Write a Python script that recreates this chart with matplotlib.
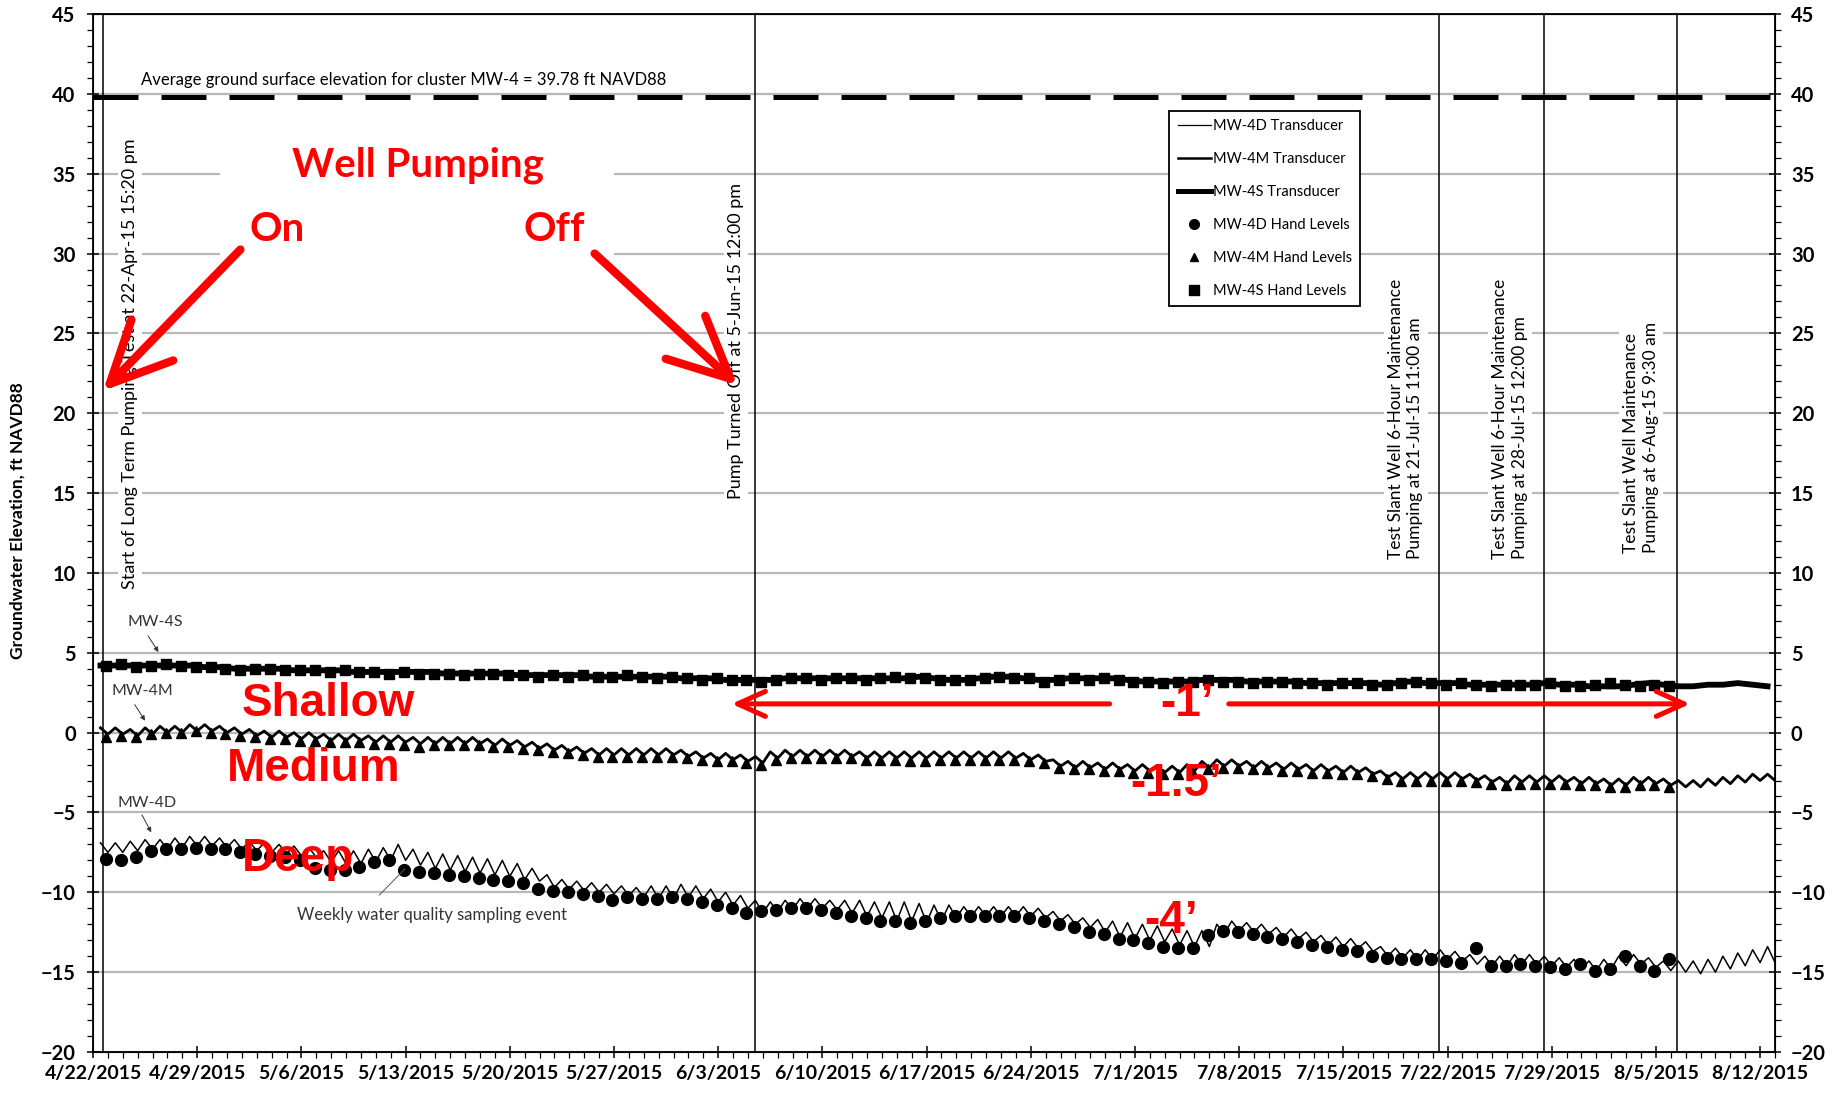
import datetime as dt
import matplotlib
matplotlib.use("Agg")
import matplotlib.pyplot as plt
import matplotlib.dates as mdates
import matplotlib.ticker as mticker
from matplotlib.lines import Line2D
from matplotlib.patches import Rectangle

# ---------------- data (ft NAVD88) ----------------
START = dt.datetime(2015, 4, 22)

# MW-4D transducer: daily high / low readings (day 0 = 4/22/2015)
mw4d_peak = [-6.9, -6.9, -6.8, -6.7, -6.7, -6.6, -6.5, -6.5, -6.6, -6.7,
             -6.8, -6.9, -7.0, -7.1, -7.2, -7.4, -7.4, -7.4, -7.3, -7.2,
             -7.0, -7.3, -7.5, -7.6, -7.7, -7.8, -7.9, -8.0, -8.2, -8.5,
             -8.9, -9.2, -9.3, -9.4, -9.5, -9.6, -9.7, -9.6, -9.6, -9.5,
             -9.6, -9.8, -10.0, -10.2, -10.5, -10.6, -10.5, -10.4, -10.4, -10.5,
             -10.5, -10.5, -10.6, -10.6, -10.6, -10.7, -10.8, -10.8, -10.9, -10.9,
             -10.9, -10.9, -10.9, -11.0, -11.2, -11.4, -11.6, -11.7, -11.8, -11.9,
             -12.0, -12.1, -12.3, -12.4, -12.4, -12.0, -11.8, -11.9, -12.0, -12.2,
             -12.3, -12.5, -12.7, -12.8, -12.9, -13.1, -13.4, -13.5, -13.6, -13.6,
             -13.6, -13.7, -13.9, -14.0, -14.0, -13.9, -13.9, -14.0, -14.1, -14.2,
             -14.3, -14.2, -14.0, -13.9, -14.1, -14.3, -14.3, -14.3, -14.2, -14.0,
             -13.8, -13.6, -13.4]
mw4d_trough = [-7.5, -7.5, -7.4, -7.3, -7.3, -7.2, -7.1, -7.1, -7.2, -7.3,
               -7.4, -7.5, -7.6, -7.7, -7.8, -8.1, -8.2, -8.2, -8.1, -8.0,
               -8.0, -8.3, -8.5, -8.6, -8.7, -8.8, -8.9, -9.0, -9.2, -9.3,
               -9.7, -9.8, -9.9, -10.0, -10.1, -10.2, -10.3, -10.4, -10.4, -10.3,
               -10.4, -10.6, -10.8, -11.0, -11.3, -11.2, -11.1, -11.0, -11.0, -11.1,
               -11.3, -11.5, -11.6, -11.8, -11.8, -11.9, -11.8, -11.6, -11.5, -11.5,
               -11.5, -11.5, -11.5, -11.6, -11.8, -12.0, -12.2, -12.5, -12.8, -12.9,
               -13.0, -13.1, -13.3, -13.4, -13.4, -12.6, -12.4, -12.5, -12.6, -12.8,
               -12.9, -13.1, -13.3, -13.4, -13.5, -13.7, -14.0, -14.1, -14.2, -14.2,
               -14.2, -14.3, -14.5, -14.6, -14.6, -14.5, -14.5, -14.6, -14.7, -14.8,
               -14.9, -14.8, -14.6, -14.5, -14.7, -14.9, -15.0, -15.1, -15.0, -14.8,
               -14.6, -14.4, -14.4]

# MW-4M transducer: daily high / low readings
mw4m_peak = [0.3, 0.3, 0.2, 0.3, 0.4, 0.4, 0.5, 0.5, 0.4, 0.3,
             0.2, 0.1, 0.1, 0.0, 0.0, -0.1, -0.1, -0.1, -0.2, -0.2,
             -0.2, -0.3, -0.3, -0.3, -0.3, -0.3, -0.4, -0.4, -0.5, -0.6,
             -0.7, -0.8, -0.9, -1.0, -1.0, -1.0, -1.0, -1.0, -1.0, -1.1,
             -1.2, -1.3, -1.3, -1.4, -1.5, -1.2, -1.1, -1.1, -1.1, -1.1,
             -1.1, -1.2, -1.2, -1.2, -1.2, -1.2, -1.2, -1.2, -1.2, -1.2,
             -1.2, -1.2, -1.3, -1.4, -1.7, -1.8, -1.8, -1.9, -1.9, -2.0,
             -2.0, -2.1, -2.1, -2.0, -1.8, -1.7, -1.7, -1.8, -1.8, -1.9,
             -1.9, -2.0, -2.0, -2.1, -2.1, -2.2, -2.4, -2.5, -2.5, -2.5,
             -2.5, -2.5, -2.6, -2.7, -2.8, -2.7, -2.7, -2.7, -2.7, -2.8,
             -2.8, -2.9, -2.9, -2.8, -2.8, -2.9, -3.0, -3.0, -2.9, -2.8,
             -2.7, -2.6, -2.6]
mw4m_trough = [-0.1, -0.1, -0.2, -0.1, 0.0, 0.0, 0.1, 0.1, 0.0, -0.1,
               -0.2, -0.3, -0.3, -0.4, -0.4, -0.5, -0.5, -0.5, -0.6, -0.6,
               -0.6, -0.7, -0.7, -0.7, -0.7, -0.7, -0.8, -0.8, -0.9, -1.0,
               -1.1, -1.2, -1.3, -1.4, -1.4, -1.4, -1.4, -1.4, -1.4, -1.5,
               -1.6, -1.7, -1.7, -1.8, -1.9, -1.6, -1.5, -1.5, -1.5, -1.5,
               -1.5, -1.6, -1.6, -1.6, -1.6, -1.6, -1.6, -1.6, -1.6, -1.6,
               -1.6, -1.6, -1.7, -1.8, -2.1, -2.2, -2.2, -2.3, -2.3, -2.4,
               -2.4, -2.5, -2.5, -2.4, -2.2, -2.1, -2.1, -2.2, -2.2, -2.3,
               -2.3, -2.4, -2.4, -2.5, -2.5, -2.6, -2.8, -2.9, -2.9, -2.9,
               -2.9, -2.9, -3.0, -3.1, -3.2, -3.1, -3.1, -3.1, -3.1, -3.2,
               -3.2, -3.3, -3.3, -3.2, -3.2, -3.3, -3.4, -3.4, -3.3, -3.2,
               -3.1, -3.0, -3.0]

# MW-4S transducer: daily readings
mw4s_transducer = [4.2, 4.2, 4.2, 4.2, 4.2, 4.2, 4.2, 4.1, 4.1, 4.0,
                   4.0, 4.0, 4.0, 3.9, 3.9, 3.9, 3.9, 3.8, 3.8, 3.8,
                   3.8, 3.8, 3.8, 3.7, 3.7, 3.7, 3.7, 3.7, 3.6, 3.6,
                   3.6, 3.6, 3.6, 3.5, 3.5, 3.5, 3.5, 3.5, 3.5, 3.4,
                   3.4, 3.4, 3.3, 3.3, 3.3, 3.3, 3.4, 3.4, 3.4, 3.4,
                   3.4, 3.4, 3.4, 3.4, 3.4, 3.5, 3.4, 3.3, 3.3, 3.4,
                   3.5, 3.5, 3.4, 3.3, 3.3, 3.4, 3.4, 3.4, 3.4, 3.3,
                   3.2, 3.2, 3.2, 3.2, 3.3, 3.3, 3.3, 3.2, 3.2, 3.2,
                   3.2, 3.1, 3.1, 3.1, 3.1, 3.1, 3.0, 3.1, 3.2, 3.1,
                   3.1, 3.1, 3.0, 3.0, 3.0, 3.0, 3.0, 3.1, 3.0, 3.0,
                   2.9, 2.9, 2.9, 3.0, 3.1, 3.0, 2.9, 2.9, 3.0, 3.0,
                   3.1, 3.0, 2.9]

# Hand levels (one per day, 4/22 - 8/6)
mw4d_hand = [-7.9, -8.0, -7.8, -7.4, -7.3, -7.3, -7.2, -7.3, -7.3, -7.5,
             -7.6, -7.7, -7.8, -8.0, -8.5, -8.6, -8.6, -8.4, -8.1, -8.0,
             -8.6, -8.7, -8.8, -8.9, -9.0, -9.1, -9.2, -9.3, -9.4, -9.8,
             -9.9, -10.0, -10.1, -10.2, -10.5, -10.3, -10.4, -10.4, -10.3, -10.4,
             -10.6, -10.8, -11.0, -11.3, -11.2, -11.1, -11.0, -11.0, -11.1, -11.3,
             -11.5, -11.6, -11.8, -11.8, -11.9, -11.8, -11.6, -11.5, -11.5, -11.5,
             -11.5, -11.5, -11.6, -11.8, -12.0, -12.2, -12.5, -12.6, -12.9, -13.0,
             -13.2, -13.4, -13.5, -13.5, -12.7, -12.4, -12.5, -12.6, -12.8, -12.9,
             -13.1, -13.3, -13.4, -13.6, -13.7, -14.0, -14.1, -14.2, -14.2, -14.2,
             -14.3, -14.4, -13.5, -14.6, -14.6, -14.5, -14.6, -14.7, -14.8, -14.5,
             -14.9, -14.8, -14.0, -14.6, -14.9, -14.2]
mw4m_hand = [-0.3, -0.2, -0.3, -0.1, 0.0, 0.0, 0.1, 0.0, -0.1, -0.2,
             -0.3, -0.4, -0.4, -0.5, -0.5, -0.6, -0.6, -0.6, -0.7, -0.7,
             -0.8, -0.9, -0.8, -0.8, -0.8, -0.8, -0.9, -0.9, -1.0, -1.1,
             -1.2, -1.3, -1.4, -1.5, -1.5, -1.5, -1.5, -1.5, -1.5, -1.6,
             -1.7, -1.8, -1.8, -1.9, -2.0, -1.7, -1.6, -1.6, -1.6, -1.6,
             -1.6, -1.7, -1.7, -1.7, -1.8, -1.8, -1.7, -1.7, -1.7, -1.7,
             -1.7, -1.7, -1.8, -1.9, -2.2, -2.3, -2.3, -2.4, -2.4, -2.5,
             -2.5, -2.6, -2.6, -2.5, -2.3, -2.2, -2.2, -2.3, -2.3, -2.4,
             -2.4, -2.5, -2.5, -2.6, -2.6, -2.7, -2.9, -3.0, -3.0, -3.0,
             -3.0, -3.0, -3.1, -3.2, -3.3, -3.2, -3.2, -3.2, -3.2, -3.3,
             -3.3, -3.4, -3.4, -3.3, -3.3, -3.4]
mw4s_hand = [4.2, 4.3, 4.1, 4.2, 4.3, 4.2, 4.1, 4.1, 4.0, 3.9,
             4.0, 4.0, 3.9, 3.9, 3.9, 3.8, 3.9, 3.8, 3.8, 3.7,
             3.8, 3.7, 3.7, 3.7, 3.6, 3.7, 3.7, 3.6, 3.6, 3.5,
             3.6, 3.5, 3.6, 3.5, 3.5, 3.6, 3.5, 3.4, 3.5, 3.4,
             3.3, 3.4, 3.3, 3.3, 3.2, 3.3, 3.4, 3.4, 3.3, 3.4,
             3.4, 3.3, 3.4, 3.5, 3.4, 3.4, 3.3, 3.3, 3.3, 3.4,
             3.5, 3.4, 3.4, 3.2, 3.3, 3.4, 3.3, 3.4, 3.3, 3.2,
             3.2, 3.1, 3.2, 3.2, 3.3, 3.2, 3.2, 3.1, 3.2, 3.2,
             3.1, 3.1, 3.0, 3.1, 3.1, 3.0, 3.0, 3.1, 3.2, 3.1,
             3.0, 3.1, 3.0, 2.9, 3.0, 3.0, 3.0, 3.1, 2.9, 2.9,
             3.0, 3.1, 3.0, 2.9, 3.0, 2.9]

ground_surface = 39.78
event_times = [dt.datetime(2015, 4, 22, 15, 20), dt.datetime(2015, 6, 5, 12, 0),
               dt.datetime(2015, 7, 21, 11, 0), dt.datetime(2015, 7, 28, 12, 0),
               dt.datetime(2015, 8, 6, 9, 30)]
week_dates = [START + dt.timedelta(days=7 * i) for i in range(17)]
tick_labels = [f"{d.month}/{d.day}/{d.year}" for d in week_dates]
legend_labels = ["MW-4D Transducer", "MW-4M Transducer", "MW-4S Transducer",
                 "MW-4D Hand Levels", "MW-4M Hand Levels", "MW-4S Hand Levels"]


def day(d):
    return START + dt.timedelta(days=d)


def X(d):
    return mdates.date2num(day(d))


# build time axes
peak_t = [day(d + 0.5) for d in range(len(mw4d_peak))]
trough_t = [day(d + 1.0) for d in range(len(mw4d_trough))]


def interleave(a, b):
    out = []
    for u, v in zip(a, b):
        out += [u, v]
    return out


tr_t = interleave(peak_t, trough_t)
mw4d_t_vals = interleave(mw4d_peak, mw4d_trough)
mw4m_t_vals = interleave(mw4m_peak, mw4m_trough)
s_t = [day(d + 0.5) for d in range(len(mw4s_transducer))]
hand_t = [day(d + 0.9) for d in range(len(mw4d_hand))]

# ---------------- figure ----------------
SANS = ["Lato", "DejaVu Sans"]
ARIAL = ["Liberation Sans", "DejaVu Sans"]
plt.rcParams["font.family"] = SANS

W, H = 1837, 1095
fig = plt.figure(figsize=(W / 100, H / 100), dpi=100)
ax = fig.add_axes([93 / W, 1 - 1052 / H, 1682 / W, 1038 / H])

ax.set_xlim(day(0), day(113))
ax.set_ylim(-20, 45)
ax.yaxis.set_major_locator(mticker.MultipleLocator(5))
ax.yaxis.set_minor_locator(mticker.MultipleLocator(1))
ax.set_xticks(mdates.date2num(week_dates))
ax.set_xticklabels(tick_labels)
ax.xaxis.set_minor_locator(mdates.DayLocator())
ax.grid(axis="y", which="major", color="#b8b8b8", lw=1.6)
ax.set_axisbelow(True)
for s in ax.spines.values():
    s.set_linewidth(1.3)

ax.tick_params(axis="x", which="major", direction="inout", length=9, width=1.1, labelsize=14, pad=5)
ax.tick_params(axis="x", which="minor", direction="out", length=4, width=0.9)
ax.tick_params(axis="y", which="major", direction="inout", length=9, width=1.1, labelsize=14.5, pad=8)
ax.tick_params(axis="y", which="minor", direction="out", length=4, width=0.9)
for lbl in ax.get_xticklabels() + ax.get_yticklabels():
    lbl.set_fontweight("bold")

ax2 = ax.twinx()
ax2.set_ylim(-20, 45)
ax2.yaxis.set_major_locator(mticker.MultipleLocator(5))
ax2.yaxis.set_minor_locator(mticker.MultipleLocator(1))
ax2.tick_params(axis="y", which="major", direction="inout", length=9, width=1.1, labelsize=14.5, pad=7)
ax2.tick_params(axis="y", which="minor", direction="out", length=4, width=0.9)
for lbl in ax2.get_yticklabels():
    lbl.set_fontweight("bold")

fig.text(18 / W, 1 - 521 / H, "Groundwater Elevation, ft NAVD88", rotation=90,
         ha="center", va="center", fontsize=12.5, fontweight="bold")

# event lines and ground surface
for t in event_times:
    ax.axvline(t, color="black", lw=1.1, zorder=2)
ax.axhline(ground_surface, color="black", lw=3.6, dashes=(9, 4.6), zorder=3)
ax.text(X(3.2), 40.85, "Average ground surface elevation for cluster MW-4 = 39.78 ft NAVD88",
        fontsize=12, ha="left", va="center", zorder=3)

# data
ax.plot(tr_t, mw4d_t_vals, color="black", lw=1.1, zorder=4)
ax.plot(tr_t, mw4m_t_vals, color="black", lw=2.0, zorder=4)
ax.plot(s_t, mw4s_transducer, color="black", lw=4.2, zorder=4)
ax.plot(hand_t, mw4d_hand, ls="none", marker="o", ms=8.5, color="black", zorder=5)
ax.plot(hand_t, mw4m_hand, ls="none", marker="^", ms=6.5, color="black", zorder=5)
ax.plot(hand_t, mw4s_hand, ls="none", marker="s", ms=7.5, color="black", zorder=5)

# legend
handles = [Line2D([], [], color="black", lw=0.9),
           Line2D([], [], color="black", lw=1.8),
           Line2D([], [], color="black", lw=3.6),
           Line2D([], [], ls="none", marker="o", ms=7, color="black"),
           Line2D([], [], ls="none", marker="^", ms=5.5, color="black"),
           Line2D([], [], ls="none", marker="s", ms=6.5, color="black")]
leg = ax.legend(handles, legend_labels, loc="upper left", bbox_to_anchor=(0.640, 0.9065),
                borderaxespad=0, fontsize=10.5, frameon=True, fancybox=False,
                edgecolor="black", framealpha=1, labelspacing=1.3, handlelength=2.3,
                handletextpad=0.15, borderpad=0.55)
leg.get_frame().set_linewidth(1.3)
leg.set_zorder(10)

# rotated event notes
box = dict(facecolor="white", edgecolor="none", pad=3)
ax.text(X(2.5), 9.0, "Start of Long Term Pumping Test at 22-Apr-15 15:20 pm", rotation=90,
        ha="center", va="bottom", fontsize=13, bbox=box, zorder=3)
ax.text(X(43.2), 14.6, "Pump Turned Off at 5-Jun-15 12:00 pm", rotation=90,
        ha="center", va="bottom", fontsize=13, bbox=box, zorder=3)
ax.text(X(88.2), 10.9, "Test Slant Well 6-Hour Maintenance\nPumping at 21-Jul-15 11:00 am",
        rotation=90, ha="center", va="bottom", multialignment="left", linespacing=1.25,
        fontsize=12.5, bbox=box, zorder=3)
ax.text(X(95.2), 10.9, "Test Slant Well 6-Hour Maintenance\nPumping at 28-Jul-15 12:00 pm",
        rotation=90, ha="center", va="bottom", multialignment="left", linespacing=1.25,
        fontsize=12.5, bbox=box, zorder=3)
ax.text(X(104.0), 11.25, "Test Slant Well Maintenance\nPumping at 6-Aug-15 9:30 am",
        rotation=90, ha="center", va="bottom", multialignment="left", linespacing=1.25,
        fontsize=12.5, bbox=box, zorder=3)

# series labels
lab_col = "#333333"
ax.text(X(4.2), 6.9, "MW-4S", fontsize=11.5, ha="center", va="center", color=lab_col, zorder=6)
ax.text(X(3.3), 2.6, "MW-4M", fontsize=11.5, ha="center", va="center", color=lab_col, zorder=6)
ax.text(X(3.6), -4.4, "MW-4D", fontsize=11.5, ha="center", va="center", color=lab_col, zorder=6)
ax.text(X(22.8), -11.4, "Weekly water quality sampling event", fontsize=12, ha="center",
        va="center", color=lab_col, zorder=6)
leader = dict(arrowstyle="-|>", color=lab_col, lw=0.7, mutation_scale=7)
ax.annotate("", xy=(X(4.5), 4.9), xytext=(X(3.6), 6.2), arrowprops=leader, zorder=6)
ax.annotate("", xy=(X(3.6), 0.6), xytext=(X(2.7), 1.9), arrowprops=leader, zorder=6)
ax.annotate("", xy=(X(4.0), -6.4), xytext=(X(3.2), -5.0), arrowprops=leader, zorder=6)
ax.annotate("", xy=(X(21.1), -8.4), xytext=(X(19.1), -10.3),
            arrowprops=dict(arrowstyle="-", color="#555555", lw=0.7), zorder=6)

# red overlay annotations
RED = "#ff0000"
ax.add_patch(Rectangle((X(8.5), 29.6), X(35.0) - X(8.5), 7.8, facecolor="white",
                       edgecolor="none", zorder=2.5))
ax.text(X(21.8), 35.5, "Well Pumping", color=RED, fontsize=29, fontweight="bold",
        ha="center", va="center", zorder=7)
ax.text(X(12.4), 31.5, "On", color=RED, fontsize=29, fontweight="bold",
        ha="center", va="center", zorder=7)
ax.text(X(31.0), 31.5, "Off", color=RED, fontsize=29, fontweight="bold",
        ha="center", va="center", zorder=7)
big_arrow = dict(arrowstyle="->,head_length=2.2,head_width=1.05", color=RED, lw=6,
                 mutation_scale=20, shrinkA=0, shrinkB=0)
ax.annotate("", xy=(X(0.67), 21.4), xytext=(X(9.9), 30.25), arrowprops=big_arrow, zorder=7)
ax.annotate("", xy=(X(43.3), 21.75), xytext=(X(33.7), 30.0), arrowprops=big_arrow, zorder=7)

for txt, xd, yv in [("Shallow", 15.8, 1.8), ("Medium", 14.8, -2.25), ("Deep", 13.8, -7.9),
                    ("-1\u2019", 73.5, 1.8), ("-1.5\u2019", 72.8, -3.2), ("-4\u2019", 72.4, -11.8)]:
    ax.text(X(xd), yv, txt, color=RED, fontsize=33, fontweight="bold", family=ARIAL,
            ha="center", va="center", zorder=7)
dbl = dict(arrowstyle="->,head_length=1.0,head_width=0.45", color=RED, lw=3.6,
           mutation_scale=20, shrinkA=0, shrinkB=0)
ax.annotate("", xy=(X(42.9), 1.8), xytext=(X(68.3), 1.8), arrowprops=dbl, zorder=7)
ax.annotate("", xy=(X(107.3), 1.8), xytext=(X(76.3), 1.8), arrowprops=dbl, zorder=7)

fig.savefig("out.png", dpi=100)
